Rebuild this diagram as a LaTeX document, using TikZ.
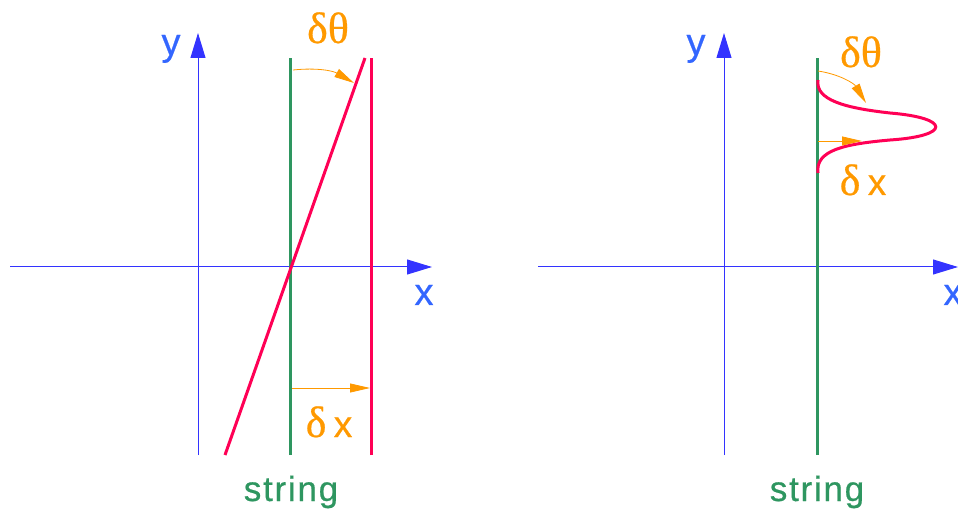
\documentclass[tikz,border=0pt]{standalone}
\usepackage{fontspec}
\setmainfont{Liberation Sans}[FakeBold=0.6]
\newfontfamily\greekfont{Liberation Serif}[FakeBold=0.5]
\usetikzlibrary{arrows.meta}

\definecolor{axisblue}{RGB}{51,51,255}
\definecolor{labelblue}{RGB}{51,102,255}
\definecolor{stringgreen}{RGB}{46,150,96}
\definecolor{wavered}{RGB}{255,0,85}
\definecolor{deltaorange}{RGB}{255,153,0}

\newcommand{\deltax}{δ\,{\normalfont\fontsize{37}{40}\selectfont x}}

\tikzset{
  axis/.style={axisblue, line width=1pt, -{Triangle[length=25pt, width=15pt]}},
  axislabel/.style={labelblue, anchor=base, font=\fontsize{38}{40}\selectfont},
  stringline/.style={stringgreen, line width=3pt},
  waveline/.style={wavered, line width=3pt},
  deltaarrow/.style={deltaorange, line width=0.8pt, -{Triangle[length=20pt, width=9pt]}},
  deltalabel/.style={deltaorange, anchor=base, font=\fontsize{44}{46}\selectfont\greekfont},
  stringlabel/.style={stringgreen, anchor=base, font=\fontsize{35}{38}\selectfont\addfontfeature{LetterSpace=5}}
}

\begin{document}
\begin{tikzpicture}[x=1pt, y=-1pt]
  \useasboundingbox (0,0) rectangle (958,510);

  % Left panel: tilted string
  \coordinate (xaL) at (10,267);  \coordinate (xbL) at (432,267);
  \coordinate (yaL) at (198,455); \coordinate (ybL) at (198,33);
  \draw[axis] (xaL) -- (xbL);
  \draw[axis] (yaL) -- (ybL);
  \node[axislabel] (xlabL) at (424,305) {x};
  \node[axislabel] (ylabL) at (171,55) {y};

  \coordinate (sbL) at (290,455); \coordinate (stL) at (290,58);
  \draw[stringline] (sbL) -- (stL);
  \coordinate (tbL) at (225,455); \coordinate (ttL) at (365,58);
  \draw[waveline] (tbL) -- (ttL);
  \coordinate (rbL) at (371,455); \coordinate (rtL) at (371,58);
  \draw[waveline] (rbL) -- (rtL);

  \coordinate (thaL) at (293,70); \coordinate (thbL) at (354,83);
  \draw[deltaarrow] (thaL) to[bend left=18] (thbL);
  \node[deltalabel] (thlabL) at (328,43) {δθ};
  \coordinate (dxaL) at (292,388); \coordinate (dxbL) at (370,388);
  \draw[deltaarrow] (dxaL) -- (dxbL);
  \node[deltalabel] (dxlabL) at (329,437) {\deltax};
  \node[stringlabel] (strL) at (291,501) {string};

  % Right panel: pulse on the string
  \begin{scope}[xshift=527pt]
    \coordinate (xaR) at (11,267);  \coordinate (xbR) at (431,267);
    \coordinate (yaR) at (197,455); \coordinate (ybR) at (197,33);
    \draw[axis] (xaR) -- (xbR);
    \draw[axis] (yaR) -- (ybR);
    \node[axislabel] (xlabR) at (426,305) {x};
    \node[axislabel] (ylabR) at (169,55) {y};

    \coordinate (sbR) at (290,455); \coordinate (stR) at (290,58);
    \draw[stringline] (sbR) -- (stR);
    \coordinate (paR) at (291,80); \coordinate (pmR) at (363,113);
    \coordinate (pnR) at (363,140); \coordinate (pbR) at (291,173);
    \draw[waveline] (paR) .. controls (288,100) and (318,108) .. (pmR)
      .. controls (424,118) and (424,136) .. (pnR)
      .. controls (318,144) and (288,150) .. (pbR);

    \coordinate (thaR) at (291,71); \coordinate (thbR) at (339,103);
    \draw[deltaarrow] (thaR) to[bend left=25] (thbR);
    \node[deltalabel] (thlabR) at (334,67) {δθ};
    \coordinate (dxaR) at (291,141); \coordinate (dxbR) at (335,141);
    \draw[deltaarrow] (dxaR) -- (dxbR);
    \node[deltalabel] (dxlabR) at (336,195) {\deltax};
    \node[stringlabel] (strR) at (290,501) {string};
  \end{scope}
\end{tikzpicture}
\end{document}
